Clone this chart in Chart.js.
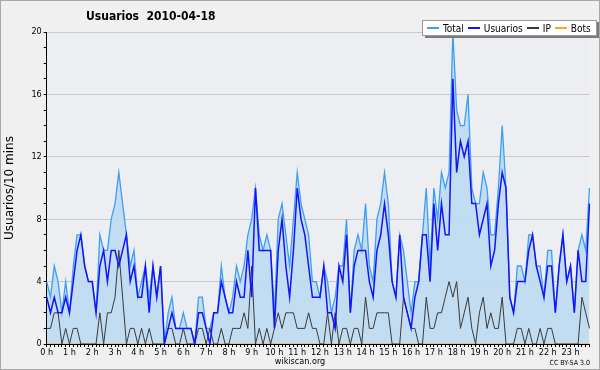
<!DOCTYPE html>
<html>
<head>
<meta charset="utf-8">
<script src="https://cdn.jsdelivr.net/npm/chart.js@4/dist/chart.umd.min.js"></script>
<style>
  html, body { margin: 0; padding: 0; }
  body { width: 600px; height: 370px; overflow: hidden; background: #f0f0f0; position: relative; }
  #chart { position: absolute; left: 0; top: 0; }
  #frame { position: absolute; left: 0; top: 0; width: 598px; height: 368px; border: 1px solid #a9a9a9; pointer-events: none; }
  .txt { position: absolute; font-family: 'DejaVu Sans Condensed', 'DejaVu Sans', sans-serif; font-stretch: condensed; color: #000; white-space: pre; }
  #title { left: 86px; top: 9px; font-size: 12px; font-weight: bold; }
  #legend { position: absolute; left: 422px; top: 20px; width: 169px; height: 14px; background: #fff; border: 1px solid #9a9a9a; box-shadow: 3px 2px 0 #7a7a7a; display: flex; align-items: center; padding-left: 4px; box-sizing: content-box; }
  #legend .item { display: flex; align-items: center; margin-right: 4px; font-family: 'DejaVu Sans Condensed', 'DejaVu Sans', sans-serif; font-stretch: condensed; font-size: 10px; }
  #legend .ln { width: 12px; height: 1.5px; margin-right: 4px; }
  #site { left: 0; width: 600px; text-align: center; top: 356px; font-size: 9px; }
  #lic { right: 10px; top: 359px; font-size: 7px; }
</style>
</head>
<body>
<canvas id="chart" width="600" height="370"></canvas>
<div id="title" class="txt">Usuarios  2010-04-18</div>
<div id="legend"></div>
<div id="site" class="txt">wikiscan.org</div>
<div id="lic" class="txt">CC BY-SA 3.0</div>
<div id="frame"></div>
<script>
// 10 minute slots, 0 h .. 23 h 50
const hourLabels = ['0 h', '1 h', '2 h', '3 h', '4 h', '5 h', '6 h', '7 h', '8 h', '9 h', '10 h', '11 h',
    '12 h', '13 h', '14 h', '15 h', '16 h', '17 h', '18 h', '19 h', '20 h', '21 h', '22 h', '23 h'];
const slotsPerHour = 6;

const total = [
    4, 3, 5, 4, 2, 4, 2, 5, 7, 7, 5, 4,
    4, 2, 7, 6, 6, 8, 9, 11, 9, 7, 5, 6,
    3, 4, 5, 3, 5, 3, 5, 0, 2, 3, 1, 1,
    2, 1, 1, 0, 3, 3, 1, 1, 2, 2, 5, 3,
    2, 3, 5, 4, 5, 7, 8, 10, 7, 6, 7, 6,
    2, 8, 9, 7, 5, 8, 11, 9, 8, 7, 4, 4,
    3, 5, 4, 2, 3, 5, 5, 8, 2, 6, 7, 6,
    9, 5, 4, 8, 9, 11, 9, 4, 3, 7, 6, 4,
    2, 4, 4, 7, 10, 5, 10, 8, 11, 10, 11, 20,
    15, 14, 14, 16, 10, 9, 9, 11, 10, 7, 7, 10,
    14, 10, 3, 2, 5, 5, 4, 7, 7, 5, 5, 3,
    6, 6, 2, 5, 7, 4, 5, 2, 6, 7, 6, 10
];
const usuarios = [
    3, 2, 3, 2, 2, 3, 2, 4, 6, 7, 5, 4,
    4, 2, 5, 6, 4, 6, 6, 5, 6, 7, 4, 5,
    3, 3, 5, 2, 5, 3, 5, 0, 1, 2, 1, 1,
    1, 1, 1, 0, 2, 2, 1, 0, 2, 2, 4, 3,
    2, 2, 4, 3, 3, 6, 3, 10, 6, 6, 6, 6,
    1, 6, 8, 5, 3, 6, 10, 8, 7, 5, 3, 3,
    3, 5, 2, 2, 1, 5, 4, 7, 2, 5, 6, 6,
    6, 4, 3, 6, 7, 9, 7, 4, 3, 7, 3, 2,
    1, 3, 4, 7, 7, 4, 9, 6, 9, 7, 7, 17,
    11, 13, 12, 13, 9, 9, 7, 8, 9, 5, 6, 9,
    11, 10, 3, 2, 4, 4, 4, 6, 7, 5, 4, 3,
    5, 5, 2, 5, 7, 4, 5, 2, 6, 4, 4, 9
];
const ip = [
    1, 1, 2, 2, 0, 1, 0, 1, 1, 0, 0, 0,
    0, 0, 2, 0, 2, 2, 3, 6, 3, 0, 1, 1,
    0, 1, 0, 1, 0, 0, 0, 0, 1, 1, 0, 0,
    1, 0, 0, 0, 1, 1, 0, 1, 0, 0, 1, 0,
    0, 1, 1, 1, 2, 1, 5, 0, 1, 0, 1, 0,
    1, 2, 1, 2, 2, 2, 1, 1, 1, 2, 1, 1,
    0, 0, 2, 0, 2, 0, 1, 1, 0, 1, 1, 0,
    3, 1, 1, 2, 2, 2, 2, 0, 0, 0, 3, 2,
    1, 1, 0, 0, 3, 1, 1, 2, 2, 3, 4, 3,
    4, 1, 2, 3, 1, 0, 2, 3, 1, 2, 1, 1,
    3, 0, 0, 0, 1, 1, 0, 1, 0, 0, 1, 0,
    1, 1, 0, 0, 0, 0, 0, 0, 0, 3, 2, 1
];
const bots = [
    0, 0, 0, 0, 0, 0, 0, 0, 0, 0, 0, 0,
    0, 0, 0, 0, 0, 0, 0, 0, 0, 0, 0, 0,
    0, 0, 0, 0, 0, 0, 0, 0, 0, 0, 0, 0,
    0, 0, 0, 0, 0, 0, 0, 0, 0, 0, 0, 0,
    0, 0, 0, 0, 0, 0, 0, 0, 0, 0, 0, 0,
    0, 0, 0, 0, 0, 0, 0, 0, 0, 0, 0, 0,
    0, 0, 0, 0, 0, 0, 0, 0, 0, 0, 0, 0,
    0, 0, 0, 0, 0, 0, 0, 0, 0, 0, 0, 0,
    0, 0, 0, 0, 0, 0, 0, 0, 0, 0, 0, 0,
    0, 0, 0, 0, 0, 0, 0, 0, 0, 0, 0, 0,
    0, 0, 0, 0, 0, 0, 0, 0, 0, 0, 0, 0,
    0, 0, 0, 0, 0, 0, 0, 0, 0, 0, 0, 0
];

const labelEvery = 4;
const font = "'DejaVu Sans Condensed', 'DejaVu Sans', sans-serif";

// category labels: one per 10 minute slot
const slots = [];
for (let h = 0; h < hourLabels.length; h++) {
    for (let m = 0; m < slotsPerHour; m++) {
        slots.push(h + ':' + m + '0');
    }
}

const series = [
    { name: 'Total', data: total, color: '#3d9ef5', width: 1.3, order: 4, fill: 'origin' },
    { name: 'Usuarios', data: usuarios, color: '#1414f8', width: 1.5, order: 1, fill: false },
    { name: 'IP', data: ip, color: '#3a3a3a', width: 1, order: 2, fill: false },
    { name: 'Bots', data: bots, color: '#ffa41c', width: 1, order: 3, fill: false }
];

const legendDiv = document.getElementById('legend');
series.forEach(s => {
    const item = document.createElement('div');
    item.className = 'item';
    item.innerHTML = '<span class="ln" style="background:' + s.color + '"></span>' + s.name;
    legendDiv.appendChild(item);
});

const plotBg = {
    id: 'plotBg',
    beforeDraw(chart) {
        const { ctx, chartArea: a } = chart;
        ctx.save();
        ctx.fillStyle = '#eceef1';
        ctx.fillRect(a.left, a.top, a.right - a.left, a.bottom - a.top);
        ctx.restore();
    }
};

const ctx = document.getElementById('chart').getContext('2d');
const chart = new Chart(ctx, {
    type: 'line',
    data: {
        labels: slots,
        datasets: series.map(s => ({
            label: s.name,
            data: s.data,
            borderColor: s.color,
            borderWidth: s.width,
            backgroundColor: s.fill ? 'rgba(190, 218, 242, 0.9)' : s.color,
            fill: s.fill,
            order: s.order,
            pointRadius: 0,
            tension: 0
        }))
    },
    options: {
        responsive: false,
        animation: false,
        layout: { padding: { top: 32, right: 10.5, left: 0, bottom: 0 } },
        plugins: {
            legend: { display: false },
            tooltip: { enabled: false }
        },
        scales: {
            x: {
                offset: false,
                z: 1,
                border: { color: '#000', width: 1 },
                grid: { drawOnChartArea: false, tickLength: 3, tickColor: '#000' },
                ticks: {
                    autoSkip: false,
                    maxRotation: 0,
                    minRotation: 0,
                    padding: 0,
                    color: '#000',
                    font: { family: font, size: 9 },
                    callback: (v, i) => i % slotsPerHour === 0 ? hourLabels[i / slotsPerHour] : ''
                },
                afterFit: (s) => { s.height = 26; }
            },
            y: {
                min: 0,
                max: 20,
                z: 1,
                border: { color: '#000', width: 1 },
                grid: {
                    color: (c) => (c.tick && c.tick.value > 0 && c.tick.value % labelEvery === 0) ? '#c9c9c9' : 'rgba(0,0,0,0)',
                    tickColor: '#000',
                    tickLength: 3
                },
                ticks: {
                    stepSize: 1,
                    maxTicksLimit: 30,
                    padding: 2,
                    color: '#000',
                    font: { family: font, size: 9 },
                    callback: (v) => v % labelEvery === 0 ? v : ''
                },
                title: {
                    display: true,
                    text: 'Usuarios/10 mins',
                    color: '#000',
                    font: { family: "'DejaVu Sans', sans-serif", size: 12 },
                    padding: { top: 3, bottom: 0 }
                },
                afterFit: (s) => { s.width = 46.7; }
            }
        }
    },
    plugins: [plotBg]
});
</script>
</body>
</html>
